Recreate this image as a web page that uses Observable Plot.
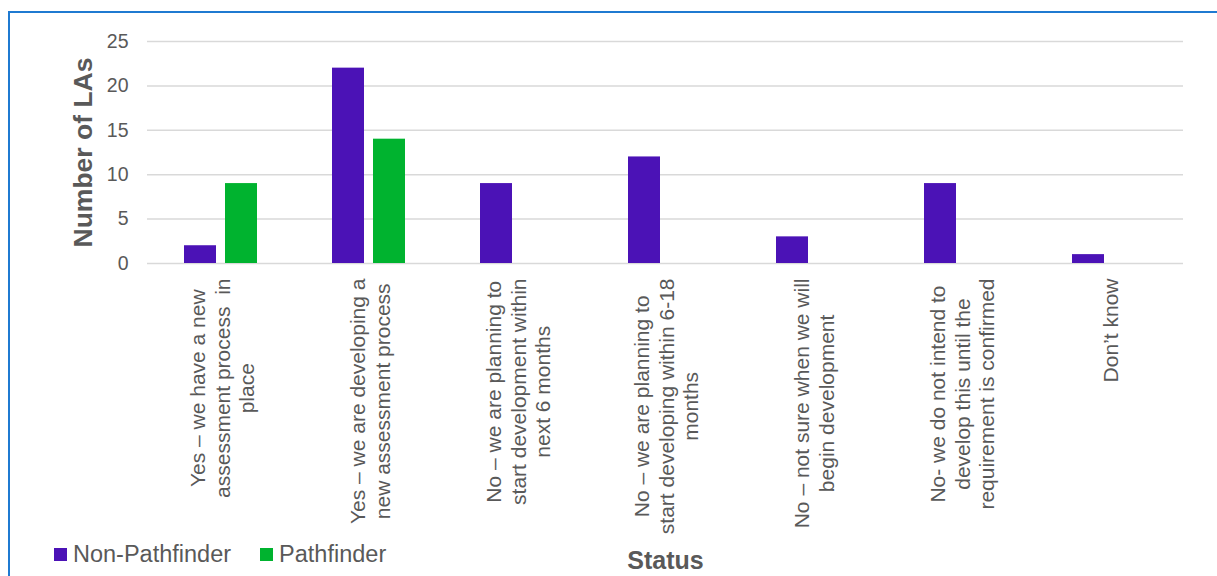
<!DOCTYPE html>
<html>
<head>
<meta charset="utf-8">
<script src="https://cdn.jsdelivr.net/npm/d3@7"></script>
<script src="https://cdn.jsdelivr.net/npm/@observablehq/plot@0.6"></script>
<style>
  body { margin: 0; background: #fff; }
  #wrap { position: relative; width: 1217px; height: 576px; overflow: hidden; background: #fff; }
  #frame { position: absolute; left: 8px; top: 11px; width: 1300px; height: 700px; border: 2px solid #1f7ad1; box-sizing: border-box; }
  #chart { position: absolute; left: 0; top: 0; }
  #legend { position: absolute; left: 54px; top: 538px; }
  g[aria-label="y-axis label"] text { font-size: 26.5px; font-weight: bold; fill: #595959; }
  g[aria-label="fx-axis label"] text { font-size: 25px; font-weight: bold; fill: #595959; }
  .leg-swatches { font-family: "Liberation Sans", Arial, sans-serif !important; font-size: 23.5px !important; color: #595959 !important; }
  .leg-swatch { margin-right: 29px !important; }
  .leg-swatch > svg { margin-right: 6px !important; }
</style>
</head>
<body>
<div id="wrap">
  <div id="frame"></div>
  <div id="chart"></div>
  <div id="legend"></div>
</div>
<script>
const categories = [
  "Yes – we have a new assessment process  in place",
  "Yes – we are developing a new assessment process",
  "No – we are planning to start development within next 6 months",
  "No – we are planning to start developing within 6-18 months",
  "No – not sure when we will begin development",
  "No- we do not intend to develop this until the requirement is confirmed",
  "Don’t know"
];
const tickLabels = [
  "Yes – we have a new\nassessment process  in\nplace",
  "Yes – we are developing a\nnew assessment process",
  "No – we are planning to\nstart development within\nnext 6 months",
  "No – we are planning to\nstart developing within 6-18\nmonths",
  "No – not sure when we will\nbegin development",
  "No- we do not intend to\ndevelop this until the\nrequirement is confirmed",
  "Don’t know"
];
const seriesNames = ["Non-Pathfinder", "Pathfinder"];
const nonPathfinder = [2, 22, 9, 12, 3, 9, 1];
const pathfinder = [9, 14, 0, 0, 0, 0, 0];
const seriesColors = ["#4b12b6", "#00b32f"];
const yTicks = [0, 5, 10, 15, 20, 25];

const data = categories.flatMap((c, i) => [
  {status: c, series: seriesNames[0], value: nonPathfinder[i]},
  {status: c, series: seriesNames[1], value: pathfinder[i]}
]);

const font = "'Liberation Sans', Arial, sans-serif";

const plot = Plot.plot({
  width: 1217,
  height: 576,
  marginLeft: 146,
  marginRight: 33,
  marginTop: 41,
  marginBottom: 313,
  style: {fontFamily: font, color: "#595959", background: "transparent", overflow: "visible"},
  fx: {domain: categories, padding: 0},
  x: {domain: seriesNames, paddingInner: 0.214, paddingOuter: 0.869, axis: null},
  y: {domain: [0, 25]},
  color: {domain: seriesNames, range: seriesColors},
  marks: [
    Plot.gridY(yTicks, {stroke: "#d9d9d9", strokeOpacity: 1, strokeWidth: 1.5}),
    Plot.barY(data, {fx: "status", x: "series", y: "value", fill: "series"}),
    Plot.axisY({
      ticks: yTicks, tickSize: 0, tickPadding: 19, fontSize: 19.5,
      label: "Number of LAs", labelAnchor: "center", labelArrow: "none", labelOffset: 74
    }),
    Plot.axisFx({
      anchor: "bottom",
      tickSize: 0, tickPadding: 15, tickRotate: -90, fontSize: 21, lineHeight: 1.19,
      tickFormat: d => tickLabels[categories.indexOf(d)],
      label: "Status", labelAnchor: "center", labelArrow: "none", labelOffset: 305
    })
  ]
});
document.getElementById("chart").appendChild(plot);

// centre the lines of each rotated category label on each other
plot.querySelectorAll('g[aria-label="fx-axis tick label"] text').forEach(t => {
  const spans = t.querySelectorAll("tspan");
  if (!spans.length) return;
  let L = 0;
  spans.forEach(s => { L = Math.max(L, s.getComputedTextLength()); });
  t.setAttribute("text-anchor", "middle");
  spans.forEach(s => s.setAttribute("x", -L / 2));
});

const legend = Plot.legend({
  color: {domain: seriesNames, range: seriesColors},
  legend: "swatches",
  swatchSize: 13,
  className: "leg"
});
document.getElementById("legend").appendChild(legend);
</script>
</body>
</html>
